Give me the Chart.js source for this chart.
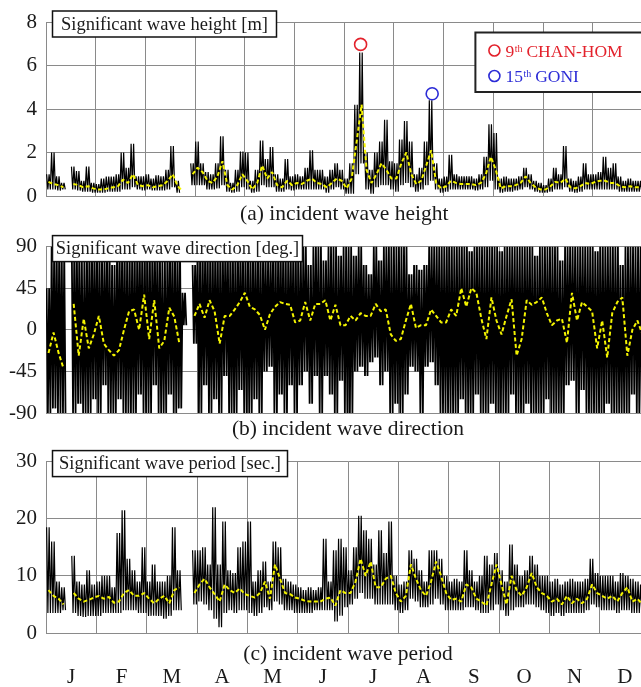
<!DOCTYPE html>
<html>
<head>
<meta charset="utf-8">
<script src="https://cdn.jsdelivr.net/npm/chart.js@4.4.0/dist/chart.umd.min.js"></script>
<style>
  html, body { margin: 0; padding: 0; background: #fff; width: 641px; height: 687px; overflow: hidden; }
  canvas { position: absolute; left: 0; }
</style>
</head>
<body>
<canvas id="heightChart" width="650" height="227" style="top:0"></canvas>
<canvas id="directionChart" width="650" height="217" style="top:225px"></canvas>
<canvas id="periodChart" width="650" height="247" style="top:440px"></canvas>
<script>
// Three-day bins (10 per month); each bin keeps the max / min of the raw record
// and the running mean (yellow dashed line). null = no observations.
const binsPerMonth = 10;
const months = ['J', 'F', 'M', 'A', 'M', 'J', 'J', 'A', 'S', 'O', 'N', 'D'];
const monthEdges = [0, 1, 2, 3, 4, 5, 6, 7, 8, 9, 10, 11, 12];

const heightTicks = [0, 2, 4, 6, 8];
const directionTicks = [-90, -45, 0, 45, 90];
const periodTicks = [0, 10, 20, 30];

// (a) significant wave height [m]
const heightHi = [
  1.0, 2.0, 0.9, 0.6, null, 1.35, 1.15, 0.7, 1.35, 0.6,
  0.55, 0.8, 0.9, 0.9, 1.0, 2.0, 1.3, 2.4, 0.9, 0.9,
  1.0, 0.8, 0.95, 0.9, 1.2, 2.3, 0.7, null, null, 1.5,
  2.5, 1.5, 1.1, 1.0, 1.5, 2.75, 1.2, 0.6, 1.2, 2.05,
  2.0, 0.7, 1.2, 2.55, 1.7, 2.25, 1.0, 0.8, 1.7, 0.9,
  1.0, 0.9, 1.3, 2.1, 1.2, 1.2, 0.9, 1.2, 1.5, 1.2,
  0.8, 1.5, 4.2, 6.6, 2.0, 1.2, 2.0, 2.5, 3.5, 1.6,
  1.5, 2.6, 3.45, 2.5, 1.0, 1.3, 2.5, 4.4, 1.5, 0.8,
  0.9, 1.9, 1.0, 0.9, 0.9, 0.9, 0.8, 1.0, 1.8, 3.3,
  2.9, 0.8, 0.9, 0.8, 0.8, 0.9, 1.3, 1.0, 0.7, 0.6,
  0.5, 0.8, 1.3, 1.0, 2.3, 0.8, 0.7, 0.9, 1.5, 1.0,
  1.0, 1.1, 1.8, 1.3, 1.5, 0.9, 0.7, 0.8, 0.7, 0.7
];
const heightLo = [
  0.3, 0.3, 0.25, 0.3, null, 0.3, 0.25, 0.2, 0.2, 0.15,
  0.15, 0.15, 0.2, 0.2, 0.2, 0.3, 0.3, 0.4, 0.3, 0.25,
  0.3, 0.25, 0.25, 0.25, 0.3, 0.4, 0.15, null, null, 0.5,
  0.5, 0.5, 0.3, 0.3, 0.35, 0.5, 0.2, 0.15, 0.2, 0.4,
  0.3, 0.15, 0.2, 0.5, 0.4, 0.4, 0.2, 0.2, 0.3, 0.25,
  0.3, 0.3, 0.3, 0.3, 0.3, 0.3, 0.15, 0.3, 0.4, 0.3,
  0.1, 0.1, 1.0, 1.5, 0.3, 0.1, 0.4, 0.5, 0.5, 0.3,
  0.2, 0.5, 0.6, 0.4, 0.2, 0.3, 0.5, 0.7, 0.3, 0.15,
  0.2, 0.3, 0.3, 0.3, 0.3, 0.3, 0.25, 0.3, 0.4, 0.7,
  0.3, 0.15, 0.2, 0.2, 0.25, 0.3, 0.4, 0.3, 0.2, 0.15,
  0.15, 0.2, 0.3, 0.3, 0.4, 0.2, 0.15, 0.2, 0.3, 0.3,
  0.3, 0.3, 0.3, 0.3, 0.3, 0.2, 0.2, 0.2, 0.2, 0.2
];
const heightMean = [
  0.65, 0.55, 0.5, 0.4, null, 0.55, 0.5, 0.4, 0.45, 0.35,
  0.3, 0.3, 0.35, 0.4, 0.45, 0.75, 0.6, 1.0, 0.5, 0.45,
  0.5, 0.4, 0.45, 0.5, 0.7, 1.0, 0.45, 0.22, null, 1.0,
  1.3, 1.1, 0.7, 0.6, 0.9, 1.6, 0.5, 0.3, 0.5, 1.0,
  0.7, 0.3, 0.6, 1.4, 0.8, 1.1, 0.5, 0.4, 0.7, 0.5,
  0.6, 0.55, 0.7, 0.8, 0.6, 0.55, 0.4, 0.6, 0.8, 0.7,
  0.35, 0.8, 2.5, 4.2, 1.2, 0.6, 1.0, 1.5, 1.2, 0.8,
  0.8, 1.5, 2.0, 1.0, 0.55, 0.7, 1.4, 2.1, 0.6, 0.35,
  0.45, 0.7, 0.6, 0.55, 0.55, 0.55, 0.5, 0.6, 1.0, 1.8,
  1.2, 0.35, 0.45, 0.45, 0.5, 0.6, 0.9, 0.6, 0.4, 0.3,
  0.3, 0.45, 0.65, 0.6, 0.8, 0.4, 0.35, 0.45, 0.6, 0.55,
  0.65, 0.7, 0.7, 0.6, 0.6, 0.45, 0.4, 0.45, 0.4, 0.4
];

// typhoon peaks marked on the height record
const stormMonth = [6.33, 7.77];
const stormMark = [6.97, 4.7];
const stormColors = ['#e3222c', '#2b2bd6'];

// (b) significant wave direction [deg.]
const directionHi = [
  45, 90, 90, 85, null, 90, 90, 75, 90, 90,
  90, 80, 90, 70, 90, 90, 85, 90, 90, 90,
  90, 90, 90, 75, 90, 90, 90, 40, null, 70,
  90, 90, 90, 90, 90, 90, 90, 90, 90, 90,
  90, 90, 90, 85, 80, 90, 90, 90, 85, 90,
  80, 90, 70, 90, 90, 75, 90, 90, 80, 90,
  90, 80, 90, 70, 60, 90, 75, 90, 90, 90,
  90, 90, 60, 70, 65, 70, 90, 90, 90, 90,
  90, 90, 90, 90, 85, 90, 90, 90, 90, 90,
  85, 90, 90, 90, 90, 90, 90, 80, 90, 90,
  90, 90, 75, 90, 90, 90, 90, 90, 90, 85,
  90, 90, 90, 90, 70, 90, 90, 90, 90, 90
];
const directionLo = [
  -90, -85, -90, -90, null, -90, -80, -90, -90, -75,
  -90, -60, -90, -90, -75, -90, -90, -90, -70, -90,
  -90, -60, -90, -90, -70, -90, -85, 5, null, -15,
  -90, -60, -90, -75, -90, -50, -90, -90, -65, -90,
  -90, -75, -90, -45, -40, -90, -70, -90, -60, -90,
  -60, -45, -80, -50, -90, -50, -70, -90, -55, -90,
  -90, -45, -40, -50, -35, -30, -60, -45, -90, -80,
  -90, -70, -40, -45, -90, -40, -35, -60, -90, -90,
  -90, -90, -75, -90, -90, -70, -90, -90, -80, -90,
  -90, -90, -70, -90, -90, -80, -90, -90, -90, -75,
  -90, -90, -90, -60, -55, -90, -65, -90, -90, -90,
  -90, -80, -90, -90, -90, -90, -70, -90, -90, -90
];
const directionMean = [
  -25, -3, -25, -42, null, 28, -28, 12, -20, -5,
  15, -15, -22, -28, -22, 0, 20, 22, 0, 38,
  -10, 32, -20, -12, 24, 14, -15, null, null, 15,
  28, 13, 32, 20, -15, 15, 15, 22, 30, 40,
  25, 22, 16, 0, 17, 25, 30, 28, 27, 8,
  10, 30, 10, 28, 28, 32, 10, 27, 5, 5,
  15, 10, 18, 15, 15, 28, 20, 22, -5, -12,
  -10, 10, 28, 2, 5, 5, 22, 15, 8, 8,
  22, 15, 45, 25, 45, 40, 12, -10, 35, 10,
  -5, 15, 33, -28, -10, 32, 27, 30, 35, 18,
  5, 10, 12, -14, 40, 10, 30, 25, 20, -20,
  10, -30, 18, 30, 35, -28, 0, 10, -5, 10
];

// (c) significant wave period [sec.]
const periodHi = [
  18.5, 16, 9, 8, null, 13.5, 9, 8.5, 11, 8.5,
  9, 10, 10, 8, 17.5, 21.5, 13, 11, 9, 15,
  9, 12, 9, 9, 10, 18.5, 11, null, null, 14.5,
  14.5, 15, 12, 22, 12, 19.5, 11, 10.5, 15, 16,
  19.5, 9, 11, 12.5, 9, 16, 15, 9.5, 9, 8.5,
  8, 7.5, 8, 7.5, 8, 16.5, 9, 14.5, 16.5, 15,
  11, 15, 20.5, 18, 16.5, 12, 18, 14, 19.5, 10,
  8.5, 9, 14.5, 13, 11, 9, 14.5, 14.5, 13, 10,
  9, 9.5, 9, 14.5, 11, 9, 10, 13.5, 12, 14,
  11, 9, 15.5, 12, 10, 11, 13.5, 12, 10, 10,
  9, 9.5, 8.5, 9, 9.5, 9, 9, 9.5, 13, 10.5,
  10, 10, 10, 9, 10.5, 10, 9.5, 9, 8.5, 9
];
const periodLo = [
  3.5, 3.5, 3.5, 4, null, 3.5, 3, 2.8, 3, 3,
  3, 3.5, 3.5, 3.5, 3.5, 4, 4, 4, 3.5, 3.5,
  3, 3, 3, 2.5, 3, 4, 4, null, null, 5,
  5.5, 5, 4, 2.5, 1, 3.5, 4, 3.5, 4, 4,
  3.5, 3, 3.5, 4.5, 4, 5.5, 5, 4, 4, 3.5,
  3.5, 3.5, 3.5, 4, 4, 4, 4, 2, 3, 4.5,
  5, 6, 7, 6, 6, 5, 5, 5, 5, 4,
  3.5, 4, 6, 5.5, 4.5, 4.5, 5, 6, 5, 4,
  4, 4, 4, 4.5, 4.5, 4, 3.5, 3.5, 4, 5,
  4, 3, 4, 4.5, 4.5, 5, 5, 4.5, 4, 3.5,
  3, 3.5, 3, 3.5, 3.5, 3.5, 3.5, 4, 5, 4.5,
  4, 4, 4, 3.5, 4, 4, 3.5, 3.5, 3.5, 3.5
];
const periodMean = [
  7.5, 6.5, 6, 5, null, 7, 6, 5.5, 5.8, 6.2,
  6.5, 6, 6.3, 5.3, 5.5, 7, 7.5, 6.5, 6.5, 7,
  6, 5.2, 6, 6.5, 5.2, 7.5, 8, null, null, 7,
  8.5, 9.5, 8, 6.8, 5.5, 8.5, 7.5, 7, 7.8, 6.8,
  6.5, 6.2, 7, 9, 6, 12, 9.5, 7, 6.8, 6.2,
  6, 5.6, 5.5, 5.5, 5.5, 6, 6.2, 4.8, 7.5, 7,
  7, 9, 13, 10, 12.5, 8, 8, 9.5, 10, 7,
  5.5, 6.5, 12, 9.5, 7.5, 6.5, 9, 12.5, 10, 7,
  5.8, 6, 5.5, 8.5, 8, 6, 5.5, 4.8, 8.5, 12,
  8.5, 5, 10, 7.5, 6.5, 8, 10.5, 8, 7, 6.5,
  5.5, 6, 5, 6.5, 5.2, 6, 5.2, 6, 8.5, 7,
  6.5, 6, 6.5, 5.5, 7, 8, 5.5, 6, 5, 5.5
];

const serif = "'Liberation Serif', 'Times New Roman', serif";
const gridColor = '#8a8a8a';
const inkColor = '#1a1a1a';

Chart.defaults.font.family = serif;
Chart.defaults.color = inkColor;

// each bin's max/min is swept twice (up-down-up-down) so the raw record
// reads as a dense black band with its spikes
function zigzag(hi, lo) {
  const pts = [];
  hi.forEach((h, i) => {
    [0.125, 0.375, 0.625, 0.875].forEach((f, k) => {
      pts.push({ x: (i + f) / binsPerMonth, y: k % 2 === 0 ? h : lo[i] });
    });
  });
  return pts;
}

function binCentres(vals) {
  return vals.map((v, i) => ({ x: (i + 0.5) / binsPerMonth, y: v }));
}

// boxed label in the upper-left corner of each panel
const panelLabel = {
  id: 'panelLabel',
  afterDraw(chart, args, opts) {
    const { ctx, chartArea } = chart;
    const x = chartArea.left + 6.5;
    const y = chartArea.top - 11;
    const h = 26;
    ctx.save();
    ctx.fillStyle = '#fff';
    ctx.fillRect(x, y, opts.width, h);
    ctx.strokeStyle = '#111';
    ctx.lineWidth = 1.5;
    ctx.strokeRect(x, y, opts.width, h);
    ctx.fillStyle = inkColor;
    ctx.font = '18.5px ' + serif;
    ctx.textAlign = 'center';
    ctx.textBaseline = 'middle';
    ctx.fillText(opts.text, x + opts.width / 2, y + h / 2 + 1);
    ctx.restore();
  }
};

// typhoon legend (ordinal with superscript)
const stormLegend = {
  id: 'stormLegend',
  afterDraw(chart, args, opts) {
    const { ctx, chartArea } = chart;
    const left = chartArea.right - 167;
    const top = chartArea.top + 10.5;
    ctx.save();
    ctx.fillStyle = '#fff';
    ctx.fillRect(left, top, 180, 59.5);
    ctx.strokeStyle = '#222';
    ctx.lineWidth = 2;
    ctx.strokeRect(left, top, 180, 59.5);
    opts.items.forEach((it, k) => {
      const cy = top + 18 + k * 25.5;
      ctx.beginPath();
      ctx.arc(left + 19, cy, 5.5, 0, Math.PI * 2);
      ctx.strokeStyle = it.color;
      ctx.lineWidth = 1.6;
      ctx.stroke();
      ctx.fillStyle = it.color;
      ctx.textBaseline = 'alphabetic';
      let x = left + 30;
      ctx.font = '17.5px ' + serif;
      ctx.fillText(it.num, x, cy + 6);
      x += ctx.measureText(it.num).width + 0.5;
      ctx.font = '10px ' + serif;
      ctx.fillText('th', x, cy + 1);
      x += ctx.measureText('th').width + 4;
      ctx.font = '17.5px ' + serif;
      ctx.fillText(it.name, x, cy + 6);
    });
    ctx.restore();
  }
};

function panelConfig(p) {
  const datasets = [
    {
      data: binCentres(p.mean),
      borderColor: '#f4f400',
      borderWidth: 2,
      borderDash: [4, 2.5],
      order: 0
    },
    {
      data: zigzag(p.hi, p.lo),
      borderColor: '#000',
      borderWidth: p.lineWidth,
      order: 1
    }
  ].concat(p.extra || []);

  const scales = {
    x: {
      type: 'linear',
      min: 0,
      max: 12,
      afterBuildTicks: s => { s.ticks = monthEdges.map(v => ({ value: v })); },
      ticks: { display: false },
      grid: { color: gridColor, drawTicks: false },
      border: { color: gridColor },
      title: {
        display: true,
        text: p.caption,
        font: { size: 21.5 },
        color: inkColor,
        padding: { top: 0, bottom: 0 }
      },
      afterFit: s => { s.height = p.axisHeight; }
    },
    y: {
      min: p.ticks[0],
      max: p.ticks[p.ticks.length - 1],
      afterBuildTicks: s => { s.ticks = p.ticks.map(v => ({ value: v })); },
      ticks: { font: { size: 21 }, color: inkColor, padding: 9 },
      grid: { color: gridColor, drawTicks: false },
      border: { color: gridColor },
      afterFit: s => { s.width = 46; }
    }
  };
  if (p.monthAxis) {
    scales.xm = {
      type: 'linear',
      position: 'bottom',
      weight: 1,
      min: 0,
      max: 12,
      afterBuildTicks: s => { s.ticks = months.map((m, i) => ({ value: i + 0.5 })); },
      ticks: {
        callback: (v, i) => months[i],
        font: { size: 21 },
        color: inkColor,
        padding: -2,
        maxRotation: 0,
        autoSkip: false
      },
      grid: { display: false, drawTicks: false },
      border: { display: false },
      afterFit: s => { s.height = 20; }
    };
  }

  return {
    type: 'line',
    data: { datasets },
    options: {
      responsive: false,
      animation: false,
      events: [],
      layout: { padding: { top: p.top, left: 0, right: 0, bottom: 0 } },
      elements: {
        point: { radius: 0 },
        line: { tension: 0, borderJoinStyle: 'bevel' }
      },
      plugins: {
        legend: { display: false },
        tooltip: { enabled: false },
        panelLabel: p.label,
        stormLegend: p.legend || {}
      },
      scales
    },
    plugins: p.legend ? [panelLabel, stormLegend] : [panelLabel]
  };
}

new Chart(document.getElementById('heightChart'), panelConfig({
  hi: heightHi, lo: heightLo, mean: heightMean, ticks: heightTicks,
  lineWidth: 1.2, top: 22, axisHeight: 31,
  caption: '(a) incident wave height',
  label: { text: 'Significant wave height [m]', width: 224 },
  legend: {
    items: [
      { num: '9', name: 'CHAN-HOM', color: stormColors[0] },
      { num: '15', name: 'GONI', color: stormColors[1] }
    ]
  },
  extra: [{
    data: stormMonth.map((m, i) => ({ x: m, y: stormMark[i] })),
    showLine: false,
    pointRadius: 6,
    pointStyle: 'circle',
    pointBorderWidth: 1.6,
    pointBorderColor: stormColors,
    pointBackgroundColor: 'rgba(0,0,0,0)',
    clip: false,
    order: -1
  }]
}));

new Chart(document.getElementById('directionChart'), panelConfig({
  hi: directionHi, lo: directionLo, mean: directionMean, ticks: directionTicks,
  lineWidth: 1.8, top: 15, axisHeight: 29,
  caption: '(b) incident wave direction',
  label: { text: 'Significant wave direction [deg.]', width: 250 }
}));

new Chart(document.getElementById('periodChart'), panelConfig({
  hi: periodHi, lo: periodLo, mean: periodMean, ticks: periodTicks,
  lineWidth: 1.2, top: 18, axisHeight: 34, monthAxis: true,
  caption: '(c) incident wave period',
  label: { text: 'Significant wave period [sec.]', width: 235 }
}));
</script>
</body>
</html>
